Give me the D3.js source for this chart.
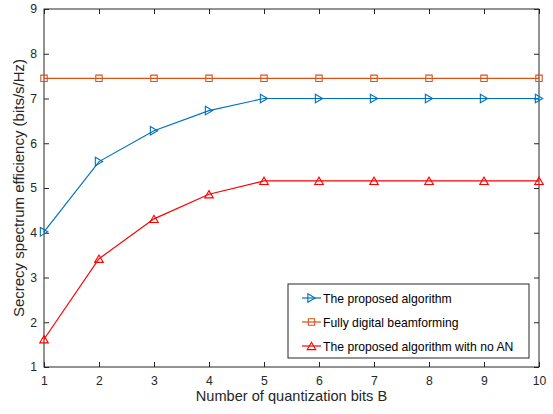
<!DOCTYPE html>
<html><head><meta charset="utf-8">
<script src="https://cdn.jsdelivr.net/npm/d3@7"></script>
<style>body{margin:0;background:#fff}text{font-family:"Liberation Sans",Arial,sans-serif}</style>
</head><body><svg id="c" width="553" height="414"></svg>
<script>
const bits = [1,2,3,4,5,6,7,8,9,10];
const proposed = [4.02,5.59,6.28,6.73,7.0,7.0,7.0,7.0,7.0,7.0];
const fullyDigital = [7.45,7.45,7.45,7.45,7.45,7.45,7.45,7.45,7.45,7.45];
const noAN = [1.62,3.42,4.31,4.86,5.16,5.16,5.16,5.16,5.16,5.16];
const xTicks = [1,2,3,4,5,6,7,8,9,10];
const yTicks = [1,2,3,4,5,6,7,8,9];
const seriesNames = ["The proposed algorithm","Fully digital beamforming","The proposed algorithm with no AN"];

const svg = d3.select("#c");
const L=44,R=539,T=9,B=367;
const x = d3.scaleLinear().domain([1,10]).range([L,R]);
const y = d3.scaleLinear().domain([1,9]).range([B,T]);
const axc="#262626";

svg.append("rect").attr("x",L).attr("y",T).attr("width",R-L).attr("height",B-T).attr("fill","#fff");

const g=svg.append("g");
const ax=(sel)=>{sel.select(".domain").remove();sel.selectAll("line").attr("stroke",axc);sel.selectAll("text").attr("fill",axc).style("font-size","12.2px");};
g.append("g").attr("transform",`translate(0,${B})`).call(d3.axisBottom(x).tickValues(xTicks).tickFormat(d3.format("d")).tickSizeInner(-5).tickSizeOuter(0).tickPadding(9)).call(ax);
g.append("g").attr("transform",`translate(0,${T})`).call(d3.axisTop(x).tickValues(xTicks).tickFormat("").tickSizeInner(-5).tickSizeOuter(0)).call(ax);
g.append("g").attr("transform",`translate(${L},0)`).call(d3.axisLeft(y).tickValues(yTicks).tickFormat(d3.format("d")).tickSizeInner(-5).tickSizeOuter(0).tickPadding(7)).call(ax);
g.append("g").attr("transform",`translate(${R},0)`).call(d3.axisRight(y).tickValues(yTicks).tickFormat("").tickSizeInner(-5).tickSizeOuter(0)).call(ax);
svg.append("rect").attr("x",L).attr("y",T).attr("width",R-L).attr("height",B-T).attr("fill","none").attr("stroke",axc).attr("stroke-width",1);

const tri = (dir)=>{
  const s=4.3;
  if(dir==="right") return `M${-s*0.85},${-s}L${s*0.85},0L${-s*0.85},${s}Z`;
  return `M${-s},${s*0.85}L0,${-s*0.85}L${s},${s*0.85}Z`;
};
const sq = `M-3.2,-3.2H3.2V3.2H-3.2Z`;

const series=[
 {name:seriesNames[0],vals:proposed,color:"#0072BD",m:tri("right")},
 {name:seriesNames[1],vals:fullyDigital,color:"#D95319",m:sq},
 {name:seriesNames[2],vals:noAN,color:"#FF0000",m:tri("up")}
];
const line=d3.line().x((d,i)=>x(bits[i])).y(d=>y(d));
series.forEach(s=>{
  svg.append("path").attr("d",line(s.vals)).attr("fill","none").attr("stroke",s.color).attr("stroke-width",1.2);
  svg.selectAll(null).data(s.vals).enter().append("path")
    .attr("d",s.m).attr("transform",(d,i)=>`translate(${x(bits[i])},${y(d)})`)
    .attr("fill","none").attr("stroke",s.color).attr("stroke-width",1.1);
});

svg.append("text").attr("x",(L+R)/2).attr("y",401).attr("text-anchor","middle").attr("fill",axc).style("font-size","14.6px").text("Number of quantization bits B");
svg.append("text").attr("transform",`translate(23.5,${(T+B)/2}) rotate(-90)`).attr("text-anchor","middle").attr("fill",axc).style("font-size","15px").text("Secrecy spectrum efficiency (bits/s/Hz)");

const lg=svg.append("g");
lg.append("rect").attr("x",288).attr("y",284).attr("width",241).attr("height",74).attr("fill","#fff").attr("stroke",axc).attr("stroke-width",1);
series.forEach((s,i)=>{
  const yy=298+i*24;
  lg.append("line").attr("x1",302).attr("x2",321).attr("y1",yy).attr("y2",yy).attr("stroke",s.color).attr("stroke-width",1.2);
  lg.append("path").attr("d",s.m).attr("transform",`translate(311.5,${yy})`).attr("fill","none").attr("stroke",s.color).attr("stroke-width",1.1);
  lg.append("text").attr("x",323).attr("y",yy+4.5).attr("fill","#000").style("font-size","12.2px").text(s.name);
});
</script></body></html>
